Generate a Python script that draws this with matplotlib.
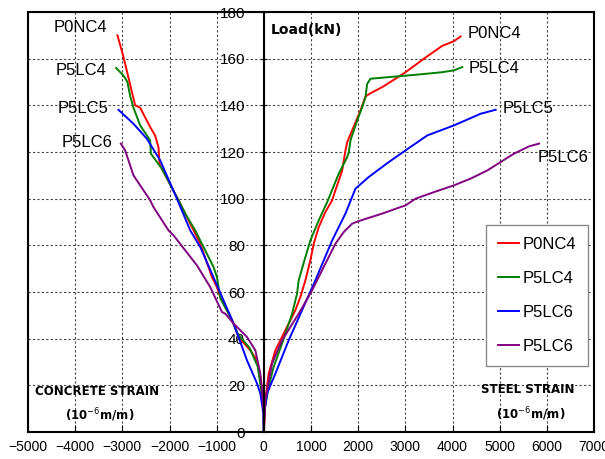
#!/usr/bin/env python3
"""
Load vs concrete / steel strain for four specimens.
"""

import matplotlib
matplotlib.use("Agg")
import matplotlib.pyplot as plt
from matplotlib.lines import Line2D

# concrete strain (left side), load in kN
c_red_x = [0, 0, -30, -60, -144, -287, -535, -675, -924, -994, -1100, -1348, -1560, -1809,
           -2161, -2212, -2233, -2304, -2410, -2622, -2728, -2990, -3104]
c_red_y = [0, 8, 15, 22, 30.7, 35, 40.7, 47.9, 57.9, 62, 66.4, 80.7, 89.3, 99.3,
           112.8, 115, 122, 127, 130.7, 139, 140, 161.9, 170]

c_green_x = [0, 0, -40, -130, -300, -550, -700, -924, -960, -994, -1066, -1348, -1454, -1667,
             -1809, -2161, -2395, -2410, -2622, -2764, -2834, -2892, -2977, -3131]
c_green_y = [0, 8, 16, 28, 36, 42, 49, 57.3, 62.1, 66.4, 70.7, 82.1, 86.4, 93.6,
             99.3, 112.8, 119.3, 125, 131.4, 139, 144, 150, 152.8, 156]

c_blue_x = [0, -10, -74, -144, -357, -641, -994, -1348, -1560, -1843, -2197, -2480, -2764, -3083]
c_blue_y = [0, 8, 16.5, 20.8, 30.7, 46.5, 62.9, 79.3, 86.4, 100, 116.4, 125.7, 132.1, 138.1]

c_purple_x = [0, 0, -40, -74, -180, -357, -641, -817, -887, -1136, -1418, -1915, -2021,
              -2340, -2410, -2622, -2764, -2941, -3032]
c_purple_y = [0, 7.9, 18, 25, 35, 40.7, 46.5, 50.7, 51.4, 62.1, 71.4, 84.3, 86.4,
              96.4, 99.3, 105.7, 110, 120.7, 123.6]

# steel strain (right side)
s_red_x = [0, 32, 102, 244, 456, 669, 775, 881, 987, 1058, 1164, 1306, 1448, 1518, 1660,
           1730, 1767, 1873, 2049, 2155, 2261, 2509, 2792, 3004, 3429, 3783, 4030, 4172]
s_red_y = [0, 13.6, 25, 35, 43.6, 52.2, 57.9, 65, 73.6, 80.7, 87.8, 94.3, 99.3, 103.6, 112,
           120.6, 124.2, 129.3, 137.8, 143.8, 145.2, 147.8, 151.4, 154.2, 160.5, 165.5, 167.5, 169.5]

s_green_x = [0, 0, 102, 208, 386, 599, 705, 739, 881, 987, 1164, 1342, 1588, 1767, 1802,
             1837, 1979, 2085, 2155, 2191, 2261, 2650, 3222, 3783, 4030, 4207]
s_green_y = [0, 7.9, 19.3, 27.9, 37.9, 50.7, 59.3, 65, 75, 82.1, 90.7, 98.5, 110.7, 117.8, 120,
             125, 133.5, 139.2, 143.5, 149.2, 151.4, 152.1, 153.1, 154.2, 155, 156.4]

s_blue_x = [0, 0, 68, 244, 527, 811, 1093, 1448, 1730, 1943, 2225, 2650, 3004, 3465,
            4030, 4597, 4915]
s_blue_y = [0, 6.5, 16.5, 25, 39.3, 52.2, 65, 82.1, 93.6, 104.3, 109.3, 115.7, 120.7, 127.1,
            131.4, 136.4, 138.1]

s_purple_x = [0, 32, 174, 386, 739, 1023, 1306, 1518, 1694, 1873, 2013, 2509, 2898, 3004,
              3217, 3606, 4030, 4384, 4739, 5021, 5304, 5622, 5834]
s_purple_y = [0, 13.6, 29.3, 39.3, 50.7, 60.7, 72.2, 80.7, 85.7, 89.3, 90.4, 93.6, 96.4, 97.1,
              100, 102.8, 105.7, 108.6, 112.1, 115.7, 119.3, 122.4, 123.6]

legend_labels = ["P0NC4", "P5LC4", "P5LC6", "P5LC6"]
end_names = ["P0NC4", "P5LC4", "P5LC5", "P5LC6"]
colors = ["#ff0000", "#008000", "#0000ff", "#800080"]

fig = plt.figure(figsize=(6.05, 4.59), dpi=100)
ax = fig.add_axes([28 / 605, 1 - 432 / 459, 566 / 605, 420 / 459])

concrete = [(c_red_x, c_red_y), (c_green_x, c_green_y), (c_blue_x, c_blue_y), (c_purple_x, c_purple_y)]
steel = [(s_red_x, s_red_y), (s_green_x, s_green_y), (s_blue_x, s_blue_y), (s_purple_x, s_purple_y)]

handles = []
for (cx, cy), (sx, sy), col, lab in zip(concrete, steel, colors, legend_labels):
    ax.plot(cx, cy, color=col, lw=1.4)
    h, = ax.plot(sx, sy, color=col, lw=1.4, label=lab)
    handles.append(h)

ax.set_xlim(-5000, 7000)
ax.set_ylim(0, 180)
ax.set_xticks(range(-5000, 7001, 1000))
ax.set_yticks(range(0, 181, 20))
ax.set_xticklabels([str(v).replace("-", "\u2212") for v in range(-5000, 7001, 1000)])
ax.grid(True, color="#444444", linestyle=(0, (2, 2)), lw=0.8)
ax.set_axisbelow(True)

# y axis sits at zero strain, outer frame kept
ax.spines["left"].set_position(("data", 0))
for s in ["left", "top", "right", "bottom"]:
    ax.spines[s].set_linewidth(1.5)
ax.add_line(Line2D([0, 0], [0, 1], transform=ax.transAxes, color="black", lw=1.5, clip_on=False))

ax.tick_params(axis="y", direction="inout", length=5, pad=11, labelsize=11)
ax.tick_params(axis="x", direction="in", length=5, pad=6, labelsize=10)
for t in ax.get_xticklabels() + ax.get_yticklabels():
    t.set_family("Liberation Sans")

# end labels
left_off = [(-220, 3.4), (-210, -1), (-220, 0.5), (-185, 0.4)]
for (cx, cy), name, (dx, dy) in zip(concrete, end_names, left_off):
    ax.text(cx[-1] + dx, cy[-1] + dy, name, fontsize=12, ha="right", va="center",
            family="Liberation Sans")
right_off = [(150, 1.3), (135, -0.6), (150, 0.6), (-27, -6)]
for (sx, sy), name, (dx, dy) in zip(steel, end_names, right_off):
    ax.text(sx[-1] + dx, sy[-1] + dy, name, fontsize=12, ha="left", va="center",
            family="Liberation Sans")

ax.text(138, 172.5, "Load(kN)", fontsize=10, fontweight="bold", va="center")
ax.text(-4850, 17.4, "CONCRETE STRAIN", fontsize=8.5, fontweight="bold", va="center")
ax.text(-4214, 7.2, r"(10$^{-6}$m/m)", fontsize=8.5, fontweight="bold", va="center")
ax.text(4597, 18.2, "STEEL STRAIN", fontsize=8.5, fontweight="bold", va="center")
ax.text(4915, 7.6, r"(10$^{-6}$m/m)", fontsize=8.5, fontweight="bold", va="center")

leg = ax.legend(handles=handles, loc="upper left", bbox_to_anchor=(0.809, 0.493),
                borderaxespad=0, handlelength=1.3, handletextpad=0.2, labelspacing=1.15,
                fancybox=False, edgecolor="#888888", framealpha=1, borderpad=0.7,
                prop={"family": "Liberation Sans", "size": 12})
leg.get_frame().set_linewidth(1.0)

fig.savefig("out.png", dpi=100)
